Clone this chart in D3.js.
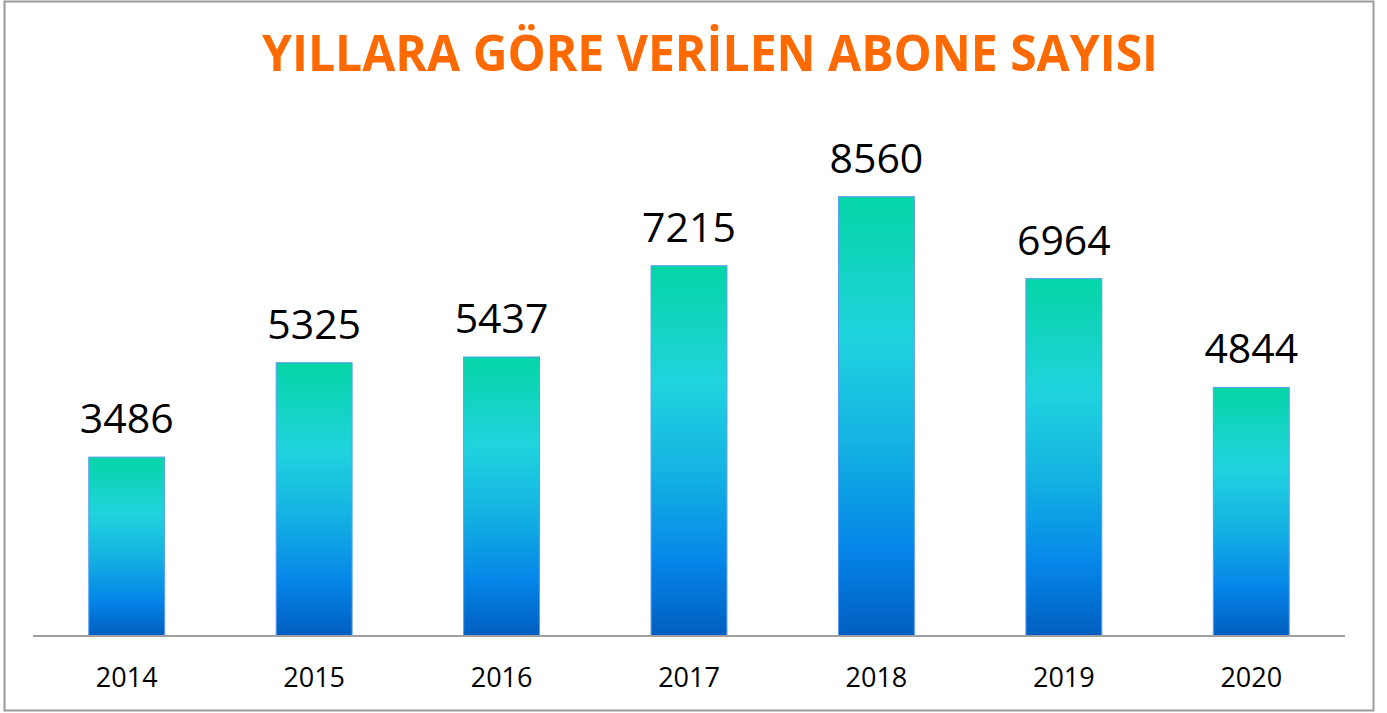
<!DOCTYPE html>
<html>
<head>
<meta charset="utf-8">
<script src="https://cdn.jsdelivr.net/npm/d3@7"></script>
<style>
  body { margin: 0; background: #fff; }
  svg { display: block; }
</style>
</head>
<body>
<script>
// veriler
const years = ["2014", "2015", "2016", "2017", "2018", "2019", "2020"];
const counts = [3486, 5325, 5437, 7215, 8560, 6964, 4844];
const title = "YILLARA GÖRE VERİLEN ABONE SAYISI";

const W = 1387, H = 713;
const baseY = 636;

const svg = d3.select("body").append("svg")
  .attr("width", W)
  .attr("height", H);

// cerceve
svg.append("rect")
  .attr("x", 4.5).attr("y", 1.5)
  .attr("width", 1369).attr("height", 709)
  .attr("fill", "#fff")
  .attr("stroke", "#999").attr("stroke-width", 2);

// gradyan
const defs = svg.append("defs");
const grad = defs.append("linearGradient")
  .attr("id", "barGrad")
  .attr("x1", 0).attr("y1", 0).attr("x2", 0).attr("y2", 1);
[[0, "#05d5a6"], [0.32, "#20d3de"], [0.55, "#14b4e2"], [0.8, "#0586e8"], [1, "#005ec0"]]
  .forEach(s => grad.append("stop").attr("offset", s[0]).attr("stop-color", s[1]));

const x = d3.scaleBand()
  .domain(years)
  .range([33, 1345])
  .paddingInner(0.595)
  .paddingOuter(0.2975);

const y = d3.scaleLinear()
  .domain([0, 9000])
  .range([baseY, baseY - 9000 * 0.05132]);

// baslik
svg.append("text")
  .attr("x", 710).attr("y", 71)
  .attr("text-anchor", "middle")
  .attr("font-family", "'Open Sans', sans-serif")
  .attr("font-weight", 700)
  .attr("font-size", 51)
  .attr("fill", "#ff6a00")
  .attr("textLength", 896)
  .attr("lengthAdjust", "spacingAndGlyphs")
  .text(title);

// cubuklar
svg.selectAll(".bar")
  .data(counts)
  .enter().append("rect")
  .attr("class", "bar")
  .attr("x", (d, i) => x(years[i]))
  .attr("y", d => y(d))
  .attr("width", x.bandwidth())
  .attr("height", d => baseY - y(d))
  .attr("fill", "url(#barGrad)")
  .attr("stroke", "#5c9cf5")
  .attr("stroke-width", 1);

// eksen
const axis = svg.append("g")
  .attr("transform", "translate(0," + baseY + ")")
  .call(d3.axisBottom(x).tickSize(0).tickPadding(0));
axis.select(".domain")
  .attr("stroke", "#a0a0a0")
  .attr("stroke-width", 2)
  .attr("d", "M33,0H1345");
axis.selectAll(".tick text")
  .attr("dy", 0)
  .attr("y", 51)
  .attr("font-family", "'Open Sans', sans-serif")
  .attr("font-size", 27)
  .attr("fill", "#000");

// deger etiketleri
svg.selectAll(".lbl")
  .data(counts)
  .enter().append("text")
  .attr("class", "lbl")
  .attr("x", (d, i) => x(years[i]) + x.bandwidth() / 2)
  .attr("y", d => y(d) - 24)
  .attr("text-anchor", "middle")
  .attr("font-family", "'Open Sans', sans-serif")
  .attr("font-size", 41)
  .attr("fill", "#000")
  .text(d => d);
</script>
</body>
</html>
